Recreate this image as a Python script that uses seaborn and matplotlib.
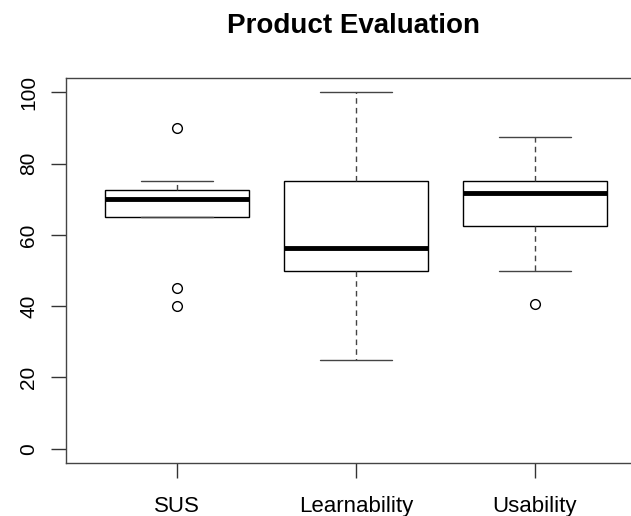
import numpy as np
import pandas as pd
import matplotlib
matplotlib.use("Agg")
import matplotlib.pyplot as plt
import seaborn as sns

# per-participant scores, picked so the box stats match the reference
categories = ["SUS", "Learnability", "Usability"]
sus = [40, 45, 65, 65, 65, 70, 70, 72.5, 72.5, 72.5, 75, 90]
learnability = [25, 37.5, 50, 50, 50, 50, 62.5, 75, 75, 75, 87.5, 100]
usability = [40.625, 50, 62.5, 62.5, 65, 68.75, 75, 75, 75, 75, 81.25, 87.5]
y_ticks = [0, 20, 40, 60, 80, 100]

df = pd.concat(
    [
        pd.DataFrame({"scale": name, "score": vals})
        for name, vals in zip(categories, [sus, learnability, usability])
    ],
    ignore_index=True,
)

sns.set_style("white")
plt.rcParams["font.family"] = ["Liberation Sans", "DejaVu Sans"]
plt.rcParams["text.color"] = "black"
plt.rcParams["xtick.labelcolor"] = "black"
plt.rcParams["ytick.labelcolor"] = "black"

fig = plt.figure(figsize=(6.31, 5.16), dpi=100)
ax = fig.add_axes([0.1046, 0.1027, 0.919, 0.746])

sns.boxplot(
    data=df,
    x="scale",
    y="score",
    order=categories,
    color="white",
    linecolor="black",
    linewidth=1,
    width=0.8,
    whis=1.5,
    flierprops=dict(marker="o", markersize=7, markerfacecolor="none",
                    markeredgecolor="black", markeredgewidth=1),
    medianprops=dict(linewidth=3.5, color="black"),
    whiskerprops=dict(linestyle=(0, (4, 3)), color="#444444"),
    capprops=dict(color="#444444"),
    ax=ax,
)

ax.set_xlim(-0.62, 2.62)
ax.set_ylim(-4, 104)
ax.set_yticks(y_ticks)
ax.set_yticklabels([str(t) for t in y_ticks], rotation=90, va="center", fontsize=15)
ax.set_xticks(range(len(categories)))
ax.set_xticklabels(categories, fontsize=16)
ax.set_xlabel("")
ax.set_ylabel("")
ax.tick_params(axis="both", direction="out", length=11, width=1, color="#333333",
               pad=9, left=True, bottom=True)
ax.tick_params(axis="x", pad=13)
for side in ["left", "bottom", "top", "right"]:
    ax.spines[side].set_visible(True)
    ax.spines[side].set_color("#444444")
    ax.spines[side].set_linewidth(1)

fig.text(0.56, 0.95, "Product Evaluation", ha="center", va="center",
         fontsize=20, fontweight="bold", color="black")

fig.savefig("out.png", dpi=100)
